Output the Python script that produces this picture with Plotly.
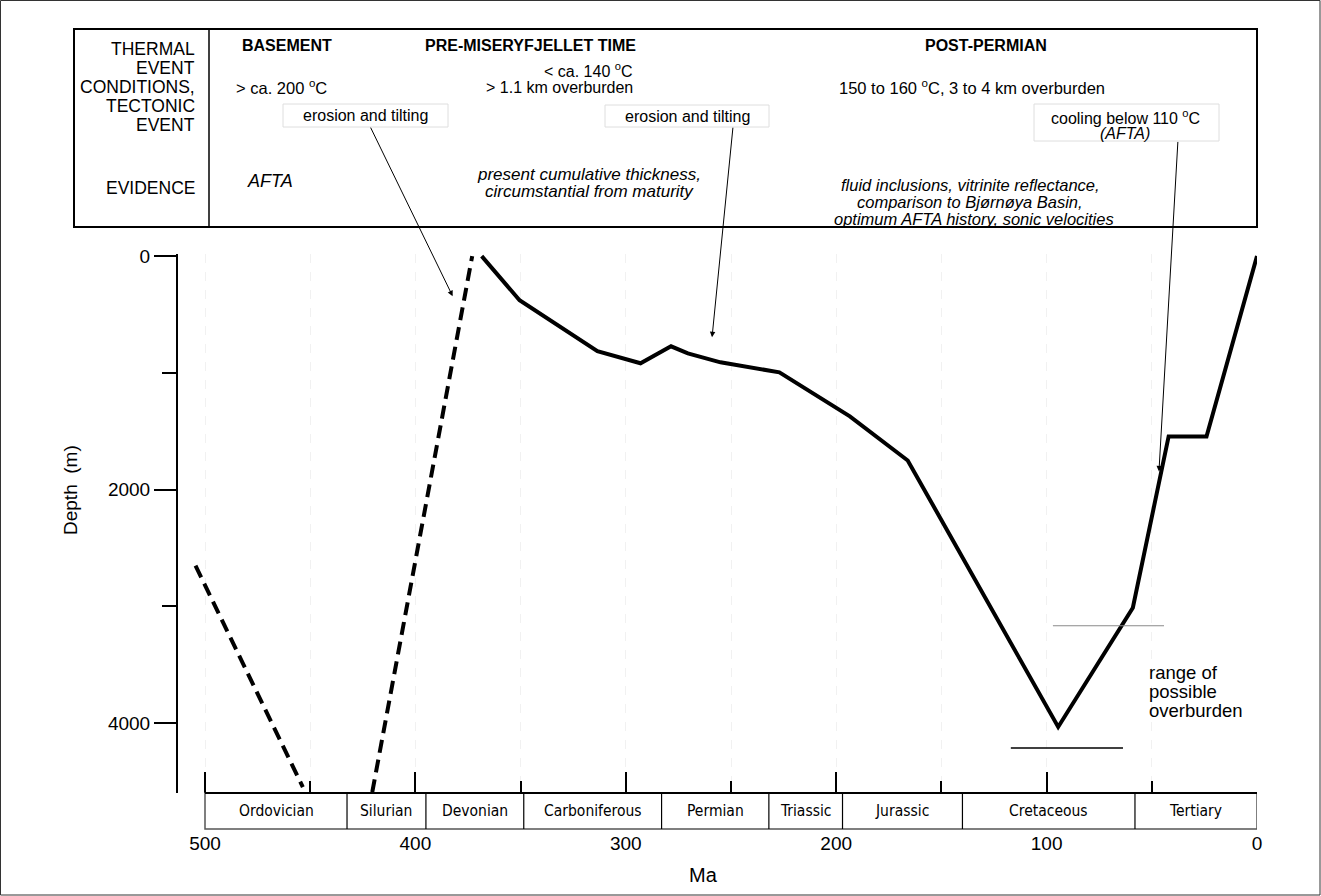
import plotly.graph_objects as go

# ---------------- data ----------------
solid_ma = [368.5, 350.5, 313.5, 293, 278.5, 270.5, 255, 227, 193.5, 166, 94.5, 59, 42, 24, 0]
solid_depth = [0, 378, 815, 918, 773, 833, 910, 996, 1373, 1751, 4034, 3013, 1545, 1545, 0]

dash1_ma = [504.5, 453.5]
dash1_depth = [2652, 4549]
dash2_ma = [420.5, 373]
dash2_depth = [4592, 0]

ob_upper_ma = [97, 44.2]
ob_upper_depth = [3167, 3167]
ob_lower_ma = [117, 63.7]
ob_lower_depth = [4215, 4215]

period_names = ["Ordovician", "Silurian", "Devonian", "Carboniferous", "Permian",
                "Triassic", "Jurassic", "Cretaceous", "Tertiary"]
period_bounds = [500, 432.5, 395, 348.5, 283, 232, 197, 140, 58, 0]

x_major = [500, 400, 300, 200, 100, 0]
x_minor = [450, 350, 250, 150, 50]
y_major = [0, 2000, 4000]
y_minor = [1000, 3000]

arrow_ma = [382.3, 259, 46.6]
arrow_depth = [343, 695, 1845]

# ---------------- layout helpers ----------------
W, H = 1321, 896
PL, PR = 178, 1257
PT, PB = 254, 793
FONT = "Liberation Sans, Arial, Helvetica, sans-serif"
NARROW = "Liberation Sans Narrow, Arial Narrow, DejaVu Sans Condensed, sans-serif"
GRID = "#f1f1f1"


def X(p):
    return (p - PL) / (PR - PL)


def Y(p):
    return (PB - p) / (PB - PT)


fig = go.Figure()

fig.add_trace(go.Scatter(x=solid_ma, y=solid_depth, mode="lines",
                         line=dict(color="black", width=4), hoverinfo="skip"))
for xs, ys in [(dash1_ma, dash1_depth), (dash2_ma, dash2_depth)]:
    fig.add_trace(go.Scatter(x=xs, y=ys, mode="lines",
                             line=dict(color="black", width=4, dash="13px,7px"),
                             hoverinfo="skip"))
fig.add_trace(go.Scatter(x=ob_upper_ma, y=ob_upper_depth, mode="lines",
                         line=dict(color="#8a8a8a", width=1.2), hoverinfo="skip"))
fig.add_trace(go.Scatter(x=ob_lower_ma, y=ob_lower_depth, mode="lines",
                         line=dict(color="black", width=1.5), hoverinfo="skip"))

shapes = []
annots = []

# period bar
bar_bottom = Y(829)
shapes.append(dict(type="rect", xref="x", yref="paper", x0=period_bounds[0], x1=period_bounds[-1],
                   y0=bar_bottom, y1=0, line=dict(color="#555555", width=1.5), layer="above"))
for b in period_bounds[1:-1]:
    shapes.append(dict(type="line", xref="x", yref="paper", x0=b, x1=b, y0=bar_bottom, y1=0,
                       line=dict(color="black", width=1.2), layer="above"))
shapes.append(dict(type="line", xref="x", yref="paper", x0=period_bounds[0], x1=period_bounds[-1],
                   y0=0, y1=0, line=dict(color="black", width=2.2), layer="above"))
for i, name in enumerate(period_names):
    mid = (period_bounds[i] + period_bounds[i + 1]) / 2
    annots.append(dict(xref="x", yref="paper", x=mid, y=Y(811), text=name, showarrow=False,
                       xanchor="center", yanchor="middle",
                       font=dict(family=NARROW, size=15.5, color="black")))

# top table box
shapes.append(dict(type="rect", xref="paper", yref="paper", x0=X(74), x1=X(1257), y0=Y(227), y1=Y(29),
                   line=dict(color="black", width=2)))
shapes.append(dict(type="line", xref="paper", yref="paper", x0=X(209), x1=X(209), y0=Y(227), y1=Y(29),
                   line=dict(color="black", width=1.5)))
# outer frame
shapes.append(dict(type="rect", xref="paper", yref="paper", x0=X(0.5), x1=X(1320), y0=Y(895), y1=Y(0.5),
                   line=dict(color="#333333", width=1)))

# label boxes
for (x0, x1, y0, y1) in [(283, 448, 104, 127), (605, 769, 105, 127), (1034, 1219, 104, 141)]:
    shapes.append(dict(type="rect", xref="paper", yref="paper", x0=X(x0), x1=X(x1), y0=Y(y1), y1=Y(y0),
                       line=dict(color="#dedede", width=1), fillcolor="white"))


def txt(text, x, y, size=16, anchor="center", family=FONT):
    annots.append(dict(xref="paper", yref="paper", x=X(x), y=Y(y), text=text, showarrow=False,
                       xanchor=anchor, yanchor="middle", font=dict(family=family, size=size, color="black")))


# row labels
for t, y in [("THERMAL", 49), ("EVENT", 68), ("CONDITIONS,", 87), ("TECTONIC", 106),
             ("EVENT", 125), ("EVIDENCE", 188)]:
    txt(t, 197, y, size=17.5, anchor="right")

# headers
txt("<b>BASEMENT</b>", 287, 46)
txt("<b>PRE-MISERYFJELLET TIME</b>", 530, 46)
txt("<b>POST-PERMIAN</b>", 986, 46)

# conditions
txt("> ca. 200 <sup>o</sup>C", 281, 87, size=16.5)
txt("< ca. 140 <sup>o</sup>C", 635, 70, size=16, anchor="right")
txt("> 1.1 km overburden", 635, 87, size=16, anchor="right")
txt("150 to 160 <sup>o</sup>C, 3 to 4 km overburden", 972, 87, size=16.5)

# tectonic events
txt("erosion and tilting", 365.5, 115.5)
txt("erosion and tilting", 687, 116)
txt("cooling below 110 <sup>o</sup>C", 1125, 117)
txt("<i>(AFTA)</i>", 1125, 133)

# evidence
txt("<i>AFTA</i>", 270, 181, size=18)
txt("<i>present cumulative thickness,</i>", 589, 174, size=17)
txt("<i>circumstantial from maturity</i>", 589, 191.5, size=17)
txt("<i>fluid inclusions, vitrinite reflectance,</i>", 970, 184.5, size=16.5)
txt("<i>comparison to Bjørnøya Basin,</i>", 970, 201.5, size=16.5)
txt("<i>optimum AFTA history, sonic velocities</i>", 974, 218.5, size=16.5)

# overburden label
txt("range of", 1147, 672, size=18.5, anchor="left")
txt("possible", 1147, 691, size=18.5, anchor="left")
txt("overburden", 1147, 710, size=18.5, anchor="left")

# axis titles
txt("Ma", 703, 875, size=20)
annots.append(dict(xref="paper", yref="paper", x=X(70), y=Y(490), text="Depth  (m)", showarrow=False,
                   textangle=-90, xanchor="center", yanchor="middle",
                   font=dict(family=FONT, size=19, color="black")))

# arrows (tails in pixel offsets from tips)
tails = [(370, 127), (733, 127), (1178, 141)]
tips_px = [(452.7, 297), (712, 338), (1159, 472)]
for m, d, (tx, ty), (hx, hy) in zip(arrow_ma, arrow_depth, tails, tips_px):
    annots.append(dict(xref="x", yref="y", x=m, y=d, text="", showarrow=True,
                       ax=tx - hx, ay=ty - hy, arrowhead=2, arrowsize=1.1, arrowwidth=1,
                       arrowcolor="black", standoff=0, startstandoff=0))

fig.update_layout(
    width=W, height=H,
    margin=dict(l=PL, r=W - PR, t=PT, b=H - PB, pad=0),
    paper_bgcolor="white", plot_bgcolor="white",
    showlegend=False, hovermode=False,
    font=dict(family=FONT, color="black"),
    shapes=shapes, annotations=annots,
    xaxis=dict(range=[500 + (205 - PL) / ((PR - 205) / 500), 0],
               tickmode="array", tickvals=x_major, ticktext=[str(v) for v in x_major],
               ticks="inside", ticklen=21, tickwidth=2, tickcolor="black",
               showline=False, zeroline=False,
               showgrid=True, gridcolor=GRID, griddash="dash", gridwidth=1,
               minor=dict(tickmode="array", tickvals=x_minor, ticks="inside", ticklen=12,
                          tickwidth=2, tickcolor="black", showgrid=True,
                          gridcolor=GRID, griddash="dash", gridwidth=1),
               tickfont=dict(size=19, family=FONT, color="black"),
               ticklabelstandoff=37),
    yaxis=dict(range=[4600, -18], tickmode="array", tickvals=y_major,
               ticktext=[str(v) for v in y_major],
               ticks="outside", ticklen=22, tickwidth=2, tickcolor="black",
               showline=True, linewidth=2, linecolor="black",
               showgrid=False, zeroline=False,
               minor=dict(tickmode="array", tickvals=y_minor, ticks="outside", ticklen=14,
                          tickwidth=2, tickcolor="black", showgrid=False),
               tickfont=dict(size=19, family=FONT, color="black")),
)

fig.write_html("out.html", config={"displayModeBar": False},
               post_script="document.body.style.margin='0';document.body.style.overflow='hidden';")
